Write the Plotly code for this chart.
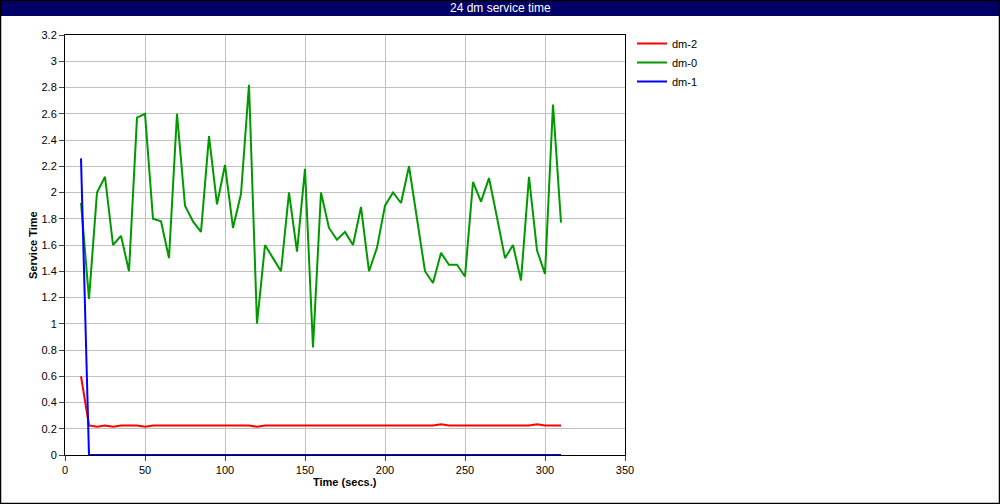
import plotly.graph_objects as go

time = [10 + 5 * i for i in range(61)]

dm0 = [1.92, 1.19, 2.00, 2.12, 1.60, 1.67, 1.40, 2.57, 2.60, 1.80,
       1.78, 1.50, 2.60, 1.90, 1.78, 1.70, 2.43, 1.91, 2.21, 1.73,
       1.99, 2.82, 1.00, 1.60, 1.50, 1.40, 2.00, 1.55, 2.18, 0.82,
       2.00, 1.73, 1.64, 1.70, 1.60, 1.89, 1.40, 1.58, 1.90, 2.00,
       1.92, 2.20, 1.80, 1.40, 1.31, 1.54, 1.45, 1.45, 1.36, 2.08,
       1.93, 2.11, 1.81, 1.50, 1.60, 1.33, 2.12, 1.56, 1.38, 2.67,
       1.77]

dm2 = [0.60, 0.225, 0.215, 0.225, 0.215, 0.225, 0.225, 0.225, 0.215, 0.225,
       0.225, 0.225, 0.225, 0.225, 0.225, 0.225, 0.225, 0.225, 0.225, 0.225,
       0.225, 0.225, 0.215, 0.225, 0.225, 0.225, 0.225, 0.225, 0.225, 0.225,
       0.225, 0.225, 0.225, 0.225, 0.225, 0.225, 0.225, 0.225, 0.225, 0.225,
       0.225, 0.225, 0.225, 0.225, 0.225, 0.235, 0.225, 0.225, 0.225, 0.225,
       0.225, 0.225, 0.225, 0.225, 0.225, 0.225, 0.225, 0.235, 0.225, 0.225,
       0.225]

dm1 = [2.26] + [0.0] * 60

x_ticks = [0, 50, 100, 150, 200, 250, 300, 350]
y_ticks = [round(0.2 * i, 1) for i in range(17)]
y_labels = [("%g" % v) for v in y_ticks]

FONT = "Liberation Sans, Arial, sans-serif"

fig = go.Figure()
fig.add_trace(go.Scatter(x=time, y=dm2, mode="lines", name="dm-2",
                         line=dict(color="#ff0000", width=2)))
fig.add_trace(go.Scatter(x=time, y=dm0, mode="lines", name="dm-0",
                         line=dict(color="#009900", width=2)))
fig.add_trace(go.Scatter(x=time, y=dm1, mode="lines", name="dm-1",
                         line=dict(color="#0000ff", width=2)))

W, H = 1000, 504
L, R, T, B = 65, 375, 35, 49
pw, ph = W - L - R, H - T - B

def px(xp):
    return (xp - L) / pw

def py(yp):
    return (H - B - yp) / ph

fig.update_layout(
    width=W, height=H,
    margin=dict(l=L, r=R, t=T, b=B, autoexpand=False),
    paper_bgcolor="white", plot_bgcolor="white",
    font=dict(family=FONT, size=11, color="black"),
    showlegend=True,
    legend=dict(x=px(632), y=py(29), xanchor="left", yanchor="top",
                font=dict(size=11, family=FONT), itemwidth=30,
                tracegroupgap=0, bgcolor="rgba(0,0,0,0)"),
    xaxis=dict(range=[0, 350], tickvals=x_ticks, ticks="outside", ticklen=5,
               showgrid=True, gridcolor="#c0c0c0", gridwidth=1,
               showline=True, linecolor="black", linewidth=1, mirror=True,
               zeroline=False, tickfont=dict(size=11)),
    yaxis=dict(range=[0, 3.2], tickvals=y_ticks, ticktext=y_labels,
               ticks="outside", ticklen=5,
               showgrid=True, gridcolor="#c0c0c0", gridwidth=1,
               showline=True, linecolor="black", linewidth=1, mirror=True,
               zeroline=False, tickfont=dict(size=11)),
    shapes=[
        dict(type="rect", xref="paper", yref="paper",
             x0=px(0), x1=px(W), y0=py(16), y1=py(0),
             fillcolor="#000066", line=dict(width=0), layer="above"),
        dict(type="rect", xref="paper", yref="paper",
             x0=px(0.5), x1=px(W - 0.5), y0=py(H - 0.5), y1=py(0.5),
             fillcolor="rgba(0,0,0,0)", line=dict(color="black", width=1.5),
             layer="above"),
    ],
    annotations=[
        dict(text="24 dm service time", xref="paper", yref="paper",
             x=px(500), y=py(8), xanchor="center", yanchor="middle",
             showarrow=False, font=dict(color="white", size=12, family=FONT)),
        dict(text="<b>Time (secs.)</b>", xref="paper", yref="paper",
             x=px(345), y=py(482), xanchor="center", yanchor="middle",
             showarrow=False, font=dict(size=11, family=FONT)),
        dict(text="<b>Service Time</b>", xref="paper", yref="paper",
             x=px(33), y=py(245), xanchor="center", yanchor="middle",
             textangle=-90, showarrow=False, font=dict(size=11, family=FONT)),
    ],
)

fig.write_html("out.html",
               config={"displayModeBar": False},
               post_script="document.body.style.margin='0';document.body.style.overflow='hidden';")
